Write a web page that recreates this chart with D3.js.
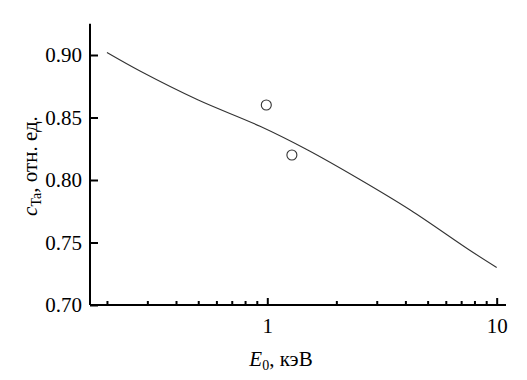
<!DOCTYPE html>
<html>
<head>
<meta charset="utf-8">
<script src="https://cdn.jsdelivr.net/npm/d3@7"></script>
<style>
  body { margin: 0; background: #fff; }
  svg { display: block; }
</style>
</head>
<body>
<svg id="chart" width="527" height="380"></svg>
<script>
// calculated curve c_Ta(E0)
var curveE = [0.2, 0.28, 0.5, 0.93, 1.5, 2.5, 4.2, 7.6, 10];
var curveC = [0.902, 0.887, 0.864, 0.843, 0.824, 0.801, 0.776, 0.744, 0.730];
// measured points
var pointE = [0.99, 1.28];
var pointC = [0.860, 0.820];
// axis ticks
var yTicks = [0.70, 0.75, 0.80, 0.85, 0.90];
var xMajor = [1, 10];
var xMinor = [0.2, 0.3, 0.4, 0.5, 0.6, 0.7, 0.8, 0.9, 2, 3, 4, 5, 6, 7, 8, 9];

var FONT = 'Liberation Serif';

var svg = d3.select('#chart');

var x = d3.scaleLog().domain([0.1687, 10.98]).range([90, 506]);
var y = d3.scaleLinear().domain([0.70, 0.925]).range([305, 23.75]);

// x axis
var xAxis = d3.axisBottom(x)
	.tickValues(xMajor)
	.tickSize(-7)
	.tickPadding(16)
	.tickFormat(d3.format('d'));
var gx = svg.append('g')
	.attr('transform', 'translate(0,' + y(0.70) + ')')
	.call(xAxis)
	.attr('font-family', FONT);
gx.select('.domain').attr('stroke-width', 2).attr('d', 'M90,0H506');
gx.selectAll('.tick line').attr('stroke-width', 2);
gx.selectAll('.tick text').attr('font-size', 21).attr('dy', '0.55em').attr('font-family', FONT);

var xAxisMinor = d3.axisBottom(x).tickValues(xMinor).tickSize(-4).tickFormat('');
var gxm = svg.append('g')
	.attr('transform', 'translate(0,' + y(0.70) + ')')
	.call(xAxisMinor);
gxm.select('.domain').remove();
gxm.selectAll('.tick line').attr('stroke-width', 2);

// y axis
var yAxis = d3.axisLeft(y)
	.tickValues(yTicks)
	.tickSize(-8)
	.tickPadding(16)
	.tickFormat(d3.format('.2f'));
var gy = svg.append('g')
	.attr('transform', 'translate(' + x.range()[0] + ',0)')
	.call(yAxis)
	.attr('font-family', FONT);
gy.select('.domain').attr('stroke-width', 2).attr('d', 'M0,305V23.75');
gy.selectAll('.tick line').attr('stroke-width', 2);
gy.selectAll('.tick text').attr('font-size', 21).attr('dx', '8').attr('font-family', FONT);

// curve
var line = d3.line()
	.x(function(d, i) { return x(curveE[i]); })
	.y(function(d, i) { return y(curveC[i]); })
	.curve(d3.curveCatmullRom);
svg.append('path')
	.datum(curveE)
	.attr('d', line)
	.attr('fill', 'none')
	.attr('stroke', '#333')
	.attr('stroke-width', 1.1);

// measured points
svg.append('g').selectAll('circle')
	.data(pointE)
	.enter().append('circle')
		.attr('cx', function(d) { return x(d); })
		.attr('cy', function(d, i) { return y(pointC[i]); })
		.attr('r', 5)
		.attr('fill', 'none')
		.attr('stroke', '#333')
		.attr('stroke-width', 1.1);

// x label
var xl = svg.append('text')
	.attr('x', 281)
	.attr('y', 366)
	.attr('text-anchor', 'middle')
	.attr('font-family', FONT)
	.attr('font-size', 21);
xl.append('tspan').attr('font-style', 'italic').text('E');
xl.append('tspan').attr('font-size', 14).attr('dy', 4).text('0');
xl.append('tspan').attr('dy', -4).text(', кэВ');

// y label
var yl = svg.append('text')
	.attr('transform', 'translate(37,166) rotate(-90)')
	.attr('text-anchor', 'middle')
	.attr('font-family', FONT)
	.attr('font-size', 21);
yl.append('tspan').attr('font-style', 'italic').text('c');
yl.append('tspan').attr('font-size', 14).attr('dy', 4).text('Ta');
yl.append('tspan').attr('dy', -4).text(', отн. ед.');
</script>
</body>
</html>
